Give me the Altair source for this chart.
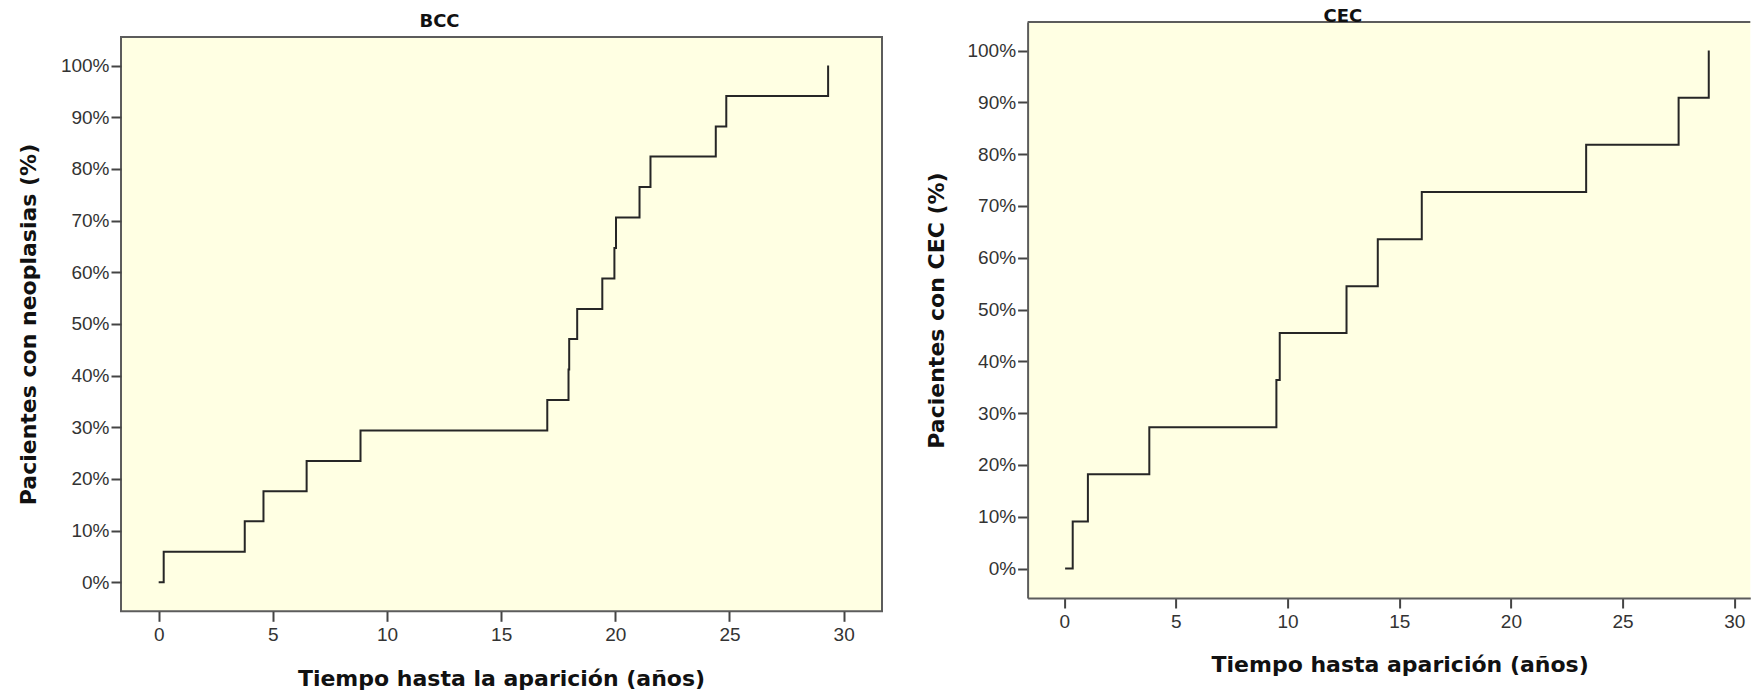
import altair as alt
import pandas as pd

# ---------------- data ----------------
bcc_time = [0.0, 0.22, 3.77, 4.59, 6.48, 8.84, 17.02, 17.95, 17.98, 18.33,
            19.43, 19.96, 20.03, 21.06, 21.54, 24.40, 24.86, 29.32]
bcc_pct = [0, 5.9, 11.8, 17.6, 23.5, 29.4, 35.3, 41.2, 47.1, 52.9,
           58.8, 64.7, 70.6, 76.5, 82.4, 88.2, 94.1, 100]

cec_time = [0.04, 0.38, 1.06, 3.81, 9.50, 9.65, 12.64, 14.04, 16.01, 23.37, 27.51, 28.86]
cec_pct = [0, 9.1, 18.2, 27.3, 36.4, 45.5, 54.5, 63.6, 72.7, 81.8, 90.9, 100]

x_ticks = [0, 5, 10, 15, 20, 25, 30]
y_ticks = [0, 10, 20, 30, 40, 50, 60, 70, 80, 90, 100]

titles = ["BCC", "CEC"]
x_titles = ["Tiempo hasta la aparición (años)", "Tiempo hasta aparición (años)"]
y_titles = ["Pacientes con neoplasias (%)", "Pacientes con CEC (%)"]

# ---------------- style / layout ----------------
FILL = "#FFFFE3"
FRAME = "#5C5C5C"
LINE = "#262626"
LABEL_FONT = "Liberation Sans"
TITLE_FONT = "DejaVu Sans"

LEFT_W, LEFT_H = 761, 589.3
LEFT_FRAME_TOP = 15
RIGHT_W, RIGHT_H = 722.7, 576

bcc_df = pd.DataFrame({"t": bcc_time, "p": bcc_pct})
cec_df = pd.DataFrame({"t": cec_time, "p": cec_pct})
one = pd.DataFrame({"k": [0]})


def x_axis(title, tx, ty, domain):
    return alt.Axis(values=x_ticks, title=title, grid=False, domain=domain,
                    domainColor=FRAME, domainWidth=2, zindex=1,
                    tickSize=10, tickWidth=2, tickColor="#444",
                    labelFont=LABEL_FONT, labelFontSize=19, labelColor="#333",
                    labelPadding=4, labelFlush=False,
                    titleFont=TITLE_FONT, titleFontSize=22, titleFontWeight="bold",
                    titleColor="#111", titleX=tx, titleY=ty,
                    titleBaseline="middle", titleAlign="center", titleAngle=0)


def y_axis(title, tx, ty, domain):
    return alt.Axis(values=y_ticks, title=title, grid=False, domain=domain,
                    domainColor=FRAME, domainWidth=2, zindex=1,
                    labelExpr="datum.value + '%'",
                    tickSize=10, tickWidth=2, tickColor="#444",
                    labelFont=LABEL_FONT, labelFontSize=19, labelColor="#333",
                    labelPadding=2, labelFlush=False,
                    titleFont=TITLE_FONT, titleFontSize=22, titleFontWeight="bold",
                    titleColor="#111", titleX=tx, titleY=ty,
                    titleBaseline="middle", titleAlign="center", titleAngle=270)


# ---------------- left panel (BCC) ----------------
left_bg = alt.Chart(one).mark_rect(fill=FILL, stroke=FRAME, strokeWidth=2).encode(
    x=alt.value(0), x2=alt.value(LEFT_W),
    y=alt.value(LEFT_FRAME_TOP), y2=alt.value(LEFT_H))

left_line = alt.Chart(bcc_df).mark_line(interpolate="step-after", color=LINE, strokeWidth=2).encode(
    x=alt.X("t:Q", scale=alt.Scale(domain=[-1.65, 31.68], nice=False, zero=False),
            axis=x_axis(x_titles[0], 380, 67, False)),
    y=alt.Y("p:Q", scale=alt.Scale(domain=[-5.61, 108.44], nice=False, zero=False),
            axis=y_axis(y_titles[0], -93, 302, False)),
)

left = alt.layer(left_bg, left_line).properties(
    width=LEFT_W, height=LEFT_H,
    title=alt.TitleParams(titles[0], anchor="middle", frame="group", offset=0,
                          baseline="alphabetic", dx=-62, dy=23,
                          font=TITLE_FONT, fontSize=18, fontWeight="bold", color="#111"),
)

# ---------------- right panel (CEC) ----------------
right_bg = alt.Chart(one).mark_rect(fill=FILL).encode(
    x=alt.value(0), x2=alt.value(RIGHT_W), y=alt.value(0), y2=alt.value(RIGHT_H))

right_top = alt.Chart(one).mark_rule(color=FRAME, strokeWidth=2).encode(
    x=alt.value(0), x2=alt.value(RIGHT_W), y=alt.value(0))

right_line = alt.Chart(cec_df).mark_line(interpolate="step-after", color=LINE, strokeWidth=2).encode(
    x=alt.X("t:Q", scale=alt.Scale(domain=[-1.64, 30.72], nice=False, zero=False),
            axis=x_axis(x_titles[1], 372, 66, True)),
    y=alt.Y("p:Q", scale=alt.Scale(domain=[-5.68, 105.52], nice=False, zero=False),
            axis=y_axis(y_titles[1], -91.5, 288, True)),
)

right = alt.layer(right_bg, right_top, right_line).properties(
    width=RIGHT_W, height=RIGHT_H,
    title=alt.TitleParams(titles[1], anchor="middle", frame="group", offset=0,
                          baseline="alphabetic", dx=-46, dy=19,
                          font=TITLE_FONT, fontSize=18, fontWeight="bold", color="#111"),
)

chart = alt.hconcat(left, right, spacing=145.6, bounds="flush").properties(
    padding={"left": 9, "top": 0, "right": 0, "bottom": 0},
    background="white",
).configure_view(strokeWidth=0)

chart.save("out.html", embed_options={"renderer": "svg", "actions": False})
